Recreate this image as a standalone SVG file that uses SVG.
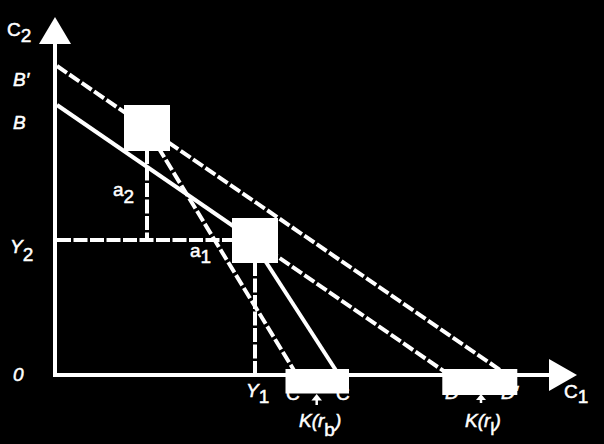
<svg xmlns="http://www.w3.org/2000/svg" width="604" height="444" viewBox="0 0 604 444">
<style>
.ln{stroke:#fff;stroke-width:4;fill:none}
.dd{stroke-dasharray:12 3}
.dv{stroke-dasharray:14 2.5}
.bx{fill:#fff}
text{fill:#fff;stroke:#fff;stroke-width:0.5;font-family:"Liberation Sans",Arial,sans-serif;font-size:19px}
.it{font-style:italic}
</style>
<rect width="604" height="444" fill="#000"/>
<g id="axes">
<line class="ln" x1="55" y1="40" x2="55" y2="377"/>
<line class="ln" x1="53" y1="375" x2="552" y2="375"/>
<polygon class="bx" points="55,17 71,44 39,44"/>
<polygon class="bx" points="577,375 549,359 549,391"/>
</g>
<g id="connectors">
<line class="ln dd" x1="57" y1="66" x2="503" y2="372"/>
<line class="ln" x1="57" y1="105" x2="255" y2="241"/>
<line class="ln dd" x1="255" y1="241" x2="445" y2="372"/>
<line class="ln dd" x1="158" y1="147" x2="295" y2="372"/>
<line class="ln" x1="264" y1="259" x2="337" y2="372"/>
<line class="ln dv" x1="147" y1="150" x2="147" y2="238"/>
<line class="ln dv" x1="57" y1="240" x2="234" y2="240"/>
<line class="ln dv" x1="255" y1="262" x2="255" y2="373"/>
<line stroke="#fff" stroke-width="2.5" x1="316.7" y1="398" x2="316.7" y2="405"/>
<polygon class="bx" points="316.7,394 322,400.5 311.4,400.5"/>
<line stroke="#fff" stroke-width="2.5" x1="481" y1="398" x2="481" y2="403"/>
<polygon class="bx" points="481,394 486,400 476,400"/>
</g>
<g id="labels-under">
<text x="286" y="400">C</text>
<text x="336" y="400">C</text>
<text x="445" y="399" class="it">D</text>
<text x="501" y="399" class="it">D′</text>
</g>
<g id="box-a"><rect class="bx" x="124" y="105" width="46" height="46"/></g>
<g id="box-b"><rect class="bx" x="232" y="218" width="46" height="45"/></g>
<g id="box-c"><rect class="bx" x="285.5" y="369" width="63.5" height="24.5"/></g>
<g id="box-d"><rect class="bx" x="442.3" y="369" width="75" height="26"/></g>
<g id="labels">
<text x="7" y="36" font-size="20">C<tspan dy="6">2</tspan></text>
<text x="13" y="86" class="it">B′</text>
<text x="13" y="129" class="it">B</text>
<text x="10" y="253" class="it" font-size="17">Y<tspan dy="8" font-style="normal">2</tspan></text>
<text x="13" y="381" class="it" font-size="19">0</text>
<text x="113" y="196" font-size="17">a<tspan dy="7">2</tspan></text>
<text x="190" y="256.5" font-size="17">a<tspan dy="6">1</tspan></text>
<text x="246" y="396.5" class="it" font-size="17">Y<tspan dy="6" font-style="normal">1</tspan></text>
<text x="564" y="398" font-size="20">C<tspan dy="5">1</tspan></text>
<text x="299" y="426.5" class="it" font-size="18">K(r<tspan dy="9" font-style="normal">b</tspan><tspan dy="-9">)</tspan></text>
<text x="465" y="426.5" class="it" font-size="18">K(r<tspan dy="8" font-style="normal">l</tspan><tspan dy="-8">)</tspan></text>
</g>
</svg>
